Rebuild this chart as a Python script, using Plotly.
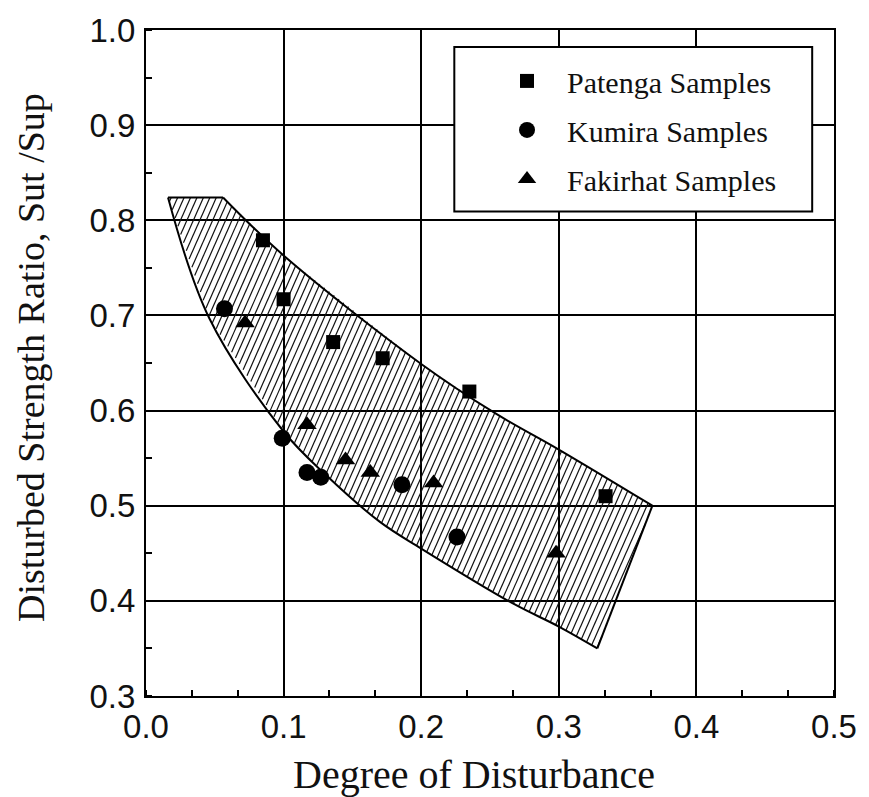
import numpy as np
import plotly.graph_objects as go

# Sample data: degree of disturbance vs. disturbed strength ratio Sut/Sup
patenga_x = [0.085, 0.100, 0.136, 0.172, 0.235, 0.334]
patenga_y = [0.779, 0.717, 0.672, 0.655, 0.620, 0.510]

kumira_x = [0.057, 0.099, 0.117, 0.127, 0.186, 0.226]
kumira_y = [0.707, 0.571, 0.535, 0.530, 0.522, 0.467]

fakirhat_x = [0.072, 0.117, 0.145, 0.163, 0.209, 0.298]
fakirhat_y = [0.692, 0.585, 0.548, 0.535, 0.524, 0.450]

# Boundaries of the shaded band
upper_x = [0.056, 0.100, 0.200, 0.254, 0.300, 0.368]
upper_y = [0.824, 0.763, 0.649, 0.597, 0.559, 0.500]
lower_x = [0.016, 0.046, 0.100, 0.131, 0.170, 0.200, 0.267, 0.300, 0.328]
lower_y = [0.824, 0.697, 0.578, 0.532, 0.483, 0.455, 0.397, 0.373, 0.350]

x_ticks = [0.0, 0.1, 0.2, 0.3, 0.4, 0.5]
y_ticks = [0.3, 0.4, 0.5, 0.6, 0.7, 0.8, 0.9, 1.0]

W, H = 869, 797
M = dict(l=146, r=29, t=28, b=101)
X_RANGE = [0.0, 0.5]
Y_RANGE = [0.3, 1.0]

# pixels per data unit, used to lay the hatching at a fixed screen angle
sx = (W - M["l"] - M["r"]) / (X_RANGE[1] - X_RANGE[0])
sy = (H - M["t"] - M["b"]) / (Y_RANGE[1] - Y_RANGE[0])


def hatch_segments(poly_x, poly_y, angle_deg=66.0, spacing_px=6.5):
    """Clip a family of parallel lines to the polygon (even-odd rule)."""
    X = np.asarray(poly_x) * sx
    Y = np.asarray(poly_y) * sy
    cot = 1.0 / np.tan(np.radians(angle_deg))
    g = X - Y * cot
    hx, hy = [], []
    for c in np.arange(g.min() + spacing_px / 2, g.max(), spacing_px):
        pts = []
        n = len(X)
        for i in range(n):
            j = (i + 1) % n
            f1, f2 = g[i] - c, g[j] - c
            if (f1 < 0) != (f2 < 0):
                t = f1 / (f1 - f2)
                pts.append((X[i] + t * (X[j] - X[i]), Y[i] + t * (Y[j] - Y[i])))
        pts.sort(key=lambda p: p[1])
        for k in range(0, len(pts) - 1, 2):
            (xa, ya), (xb, yb) = pts[k], pts[k + 1]
            hx += [xa / sx, xb / sx, None]
            hy += [ya / sy, yb / sy, None]
    return hx, hy


band_x = upper_x + lower_x[::-1]
band_y = upper_y + lower_y[::-1]
hx, hy = hatch_segments(band_x, band_y)

fig = go.Figure()

fig.add_trace(go.Scatter(x=hx, y=hy, mode="lines",
                         line=dict(color="#111", width=1.2),
                         hoverinfo="skip", showlegend=False))

outline = dict(color="black", width=2)
fig.add_trace(go.Scatter(x=upper_x, y=upper_y, mode="lines", line_shape="spline",
                         line=outline, showlegend=False, hoverinfo="skip"))
fig.add_trace(go.Scatter(x=lower_x, y=lower_y, mode="lines", line_shape="spline",
                         line=outline, showlegend=False, hoverinfo="skip"))
fig.add_trace(go.Scatter(x=[lower_x[0], upper_x[0]], y=[lower_y[0], upper_y[0]],
                         mode="lines", line=outline, showlegend=False, hoverinfo="skip"))
fig.add_trace(go.Scatter(x=[upper_x[-1], lower_x[-1]], y=[upper_y[-1], lower_y[-1]],
                         mode="lines", line=outline, showlegend=False, hoverinfo="skip"))

fig.add_trace(go.Scatter(x=patenga_x, y=patenga_y, mode="markers", name="Patenga Samples",
                         legendgroup="a",
                         marker=dict(symbol="square", size=14, color="black")))
fig.add_trace(go.Scatter(x=kumira_x, y=kumira_y, mode="markers", name="Kumira Samples",
                         legendgroup="b",
                         marker=dict(symbol="circle", size=17, color="black")))
fig.add_trace(go.Scatter(x=fakirhat_x, y=fakirhat_y, mode="markers", name="Fakirhat Samples",
                         legendgroup="c",
                         marker=dict(symbol="triangle-up", size=17, color="black")))

tick_font = dict(family="Liberation Sans, Arial, sans-serif", size=33, color="#111")
serif = "Liberation Serif, Times New Roman, serif"

axis_common = dict(
    showgrid=True, gridcolor="black", gridwidth=1.7,
    showline=True, linecolor="black", linewidth=2.2, mirror=True,
    ticks="", tickfont=tick_font,
    zeroline=False, tickformat=".1f",
)

fig.update_xaxes(range=X_RANGE, tickvals=x_ticks, ticklabelstandoff=0,
                 minor=dict(dtick=0.1 / 3, tick0=0, ticks="inside", ticklen=6,
                            tickwidth=1.5, tickcolor="black", showgrid=False),
                 **axis_common)
fig.update_yaxes(range=Y_RANGE, tickvals=y_ticks, ticklabelstandoff=2,
                 minor=dict(dtick=0.05, tick0=0, ticks="inside", ticklen=6,
                            tickwidth=1.5, tickcolor="black", showgrid=False),
                 **axis_common)

pw = W - M["l"] - M["r"]
ph = H - M["t"] - M["b"]

# legend frame
fig.add_shape(type="rect", xref="paper", yref="paper", layer="above",
              x0=(457 - M["l"]) / pw, x1=(818 - M["l"]) / pw,
              y0=(H - M["b"] - 210) / ph, y1=(H - M["b"] - 45) / ph,
              line=dict(color="black", width=2), fillcolor="white")

fig.update_layout(
    width=W, height=H, margin=M,
    paper_bgcolor="white", plot_bgcolor="white",
    legend=dict(x=(490 - M["l"]) / pw, y=(H - M["b"] - 53) / ph,
                xanchor="left", yanchor="top",
                font=dict(family=serif, size=30, color="#111"),
                bgcolor="rgba(0,0,0,0)", borderwidth=0,
                tracegroupgap=7, itemwidth=70),
    annotations=[
        dict(text="Degree of Disturbance", xref="paper", yref="paper",
             x=(477 - M["l"]) / pw, y=(H - M["b"] - 775) / ph,
             xanchor="center", yanchor="middle", showarrow=False,
             font=dict(family=serif, size=40, color="#111")),
        dict(text="Disturbed Strength Ratio, Sut /Sup", xref="paper", yref="paper",
             x=(30 - M["l"]) / pw, y=(H - M["b"] - 357) / ph, textangle=-90,
             xanchor="center", yanchor="middle", showarrow=False,
             font=dict(family=serif, size=38, color="#111")),
    ],
)

fig.write_html("out.html")
